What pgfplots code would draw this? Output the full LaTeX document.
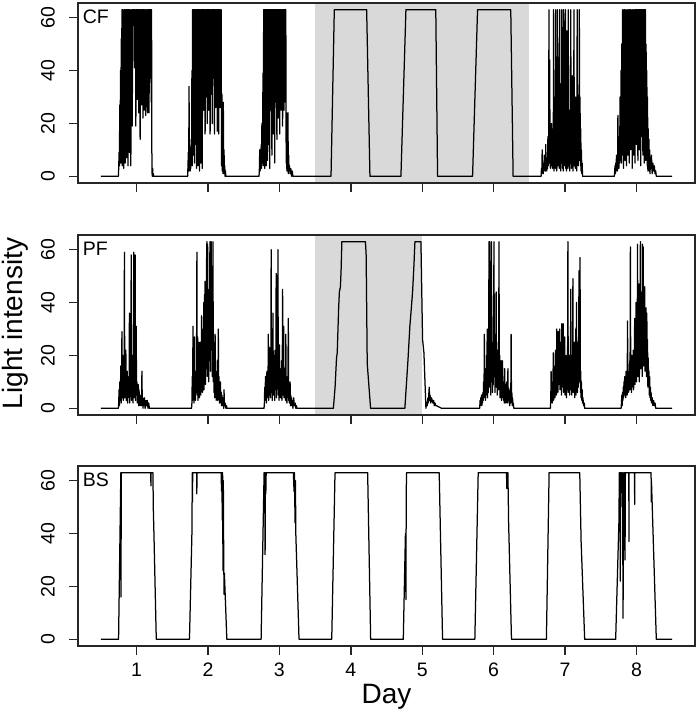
\documentclass[border=0pt]{standalone}
\usepackage{fontspec}
\setmainfont{Liberation Sans}
\usepackage{pgfplots}
\pgfplotsset{compat=1.18}
\pgfplotsset{
 panel/.style={
  scale only axis, width=617pt, height=180pt,
  xmin=0.18, xmax=8.82, ymin=-2.52, ymax=65.52,
  xtick={1,2,3,4,5,6,7,8}, ytick={0,20,40,60},
  tick pos=left, tick align=outside, major tick length=9pt,
  axis line style={line width=1.4pt, black!85},
  every tick/.style={black!85, line width=1.4pt},
  /pgf/number format/assume math mode=true,
  tick label style={font=\fontsize{19.5}{20}\selectfont},
  yticklabel style={rotate=90, anchor=south, inner sep=0pt},
  yticklabel shift=14pt,
  xticklabel style={anchor=north, inner sep=0pt},
  xticklabel shift=8pt,
  axis on top,
 },
 data/.style={black, line width=1.25pt, line join=round, no marks},
}
\newcommand{\plab}[1]{\node[anchor=north west, inner sep=0pt, xshift=4.7pt, yshift=-6.7pt, font=\fontsize{19.5}{20}\selectfont] at (rel axis cs:0,1) {#1};}
\begin{document}
\begin{tikzpicture}[x=1pt,y=1pt]
\path[use as bounding box] (0,0) rectangle (700,711);
% ---------------- CF ----------------
\begin{axis}[panel, at={(78pt,528pt)}, anchor=south west, xticklabels={}]
\fill[black!15] (axis cs:3.5,-2.52) rectangle (axis cs:6.5,65.52);
\addplot[data] coordinates {
(0.5,0)(0.745,0)
(0.750,3)(0.755,9)(0.760,4)(0.765,27)(0.770,6)(0.775,40)(0.780,5)(0.785,52)(0.790,8)(0.795,63)(0.800,4)(0.805,63)(0.810,14)(0.815,58)(0.820,3)(0.825,63)(0.830,22)(0.835,63)(0.840,5)(0.845,63)(0.850,33)(0.855,63)(0.860,7)(0.865,63)(0.870,16)(0.875,63)(0.880,4)(0.885,63)(0.890,38)(0.895,63)(0.900,9)(0.905,63)(0.910,26)(0.915,63)(0.920,4)(0.925,60)(0.930,42)(0.935,63)(0.940,19)(0.945,63)(0.950,57)(0.955,63)(0.965,63)(0.970,41)(0.975,63)(0.980,55)(0.985,63)(0.990,19)(0.995,63)(1.000,38)(1.005,63)(1.010,29)(1.015,63)(1.020,47)(1.025,63)(1.030,24)(1.035,63)(1.040,36)(1.045,63)(1.050,14)(1.055,63)(1.060,45)(1.065,63)(1.070,27)(1.075,63)(1.080,40)(1.085,63)(1.090,22)(1.095,63)(1.100,50)(1.105,63)(1.110,25)(1.115,63)(1.120,35)(1.125,63)(1.130,23)(1.135,60)(1.140,63)(1.145,30)(1.150,63)(1.155,24)(1.160,63)(1.165,46)(1.170,63)(1.175,24)(1.180,63)(1.185,52)(1.190,63)(1.195,37)(1.200,63)(1.205,28)(1.210,63)(1.215,2)(1.220,0)(1.225,3)(1.230,0)(1.235,1)(1.240,0)
(1.715,0)
(1.720,4)(1.725,9)(1.730,2)(1.735,34)(1.740,5)(1.745,11)(1.750,2)(1.755,8)(1.760,3)(1.765,14)(1.770,6)(1.775,40)(1.780,4)(1.785,63)(1.790,8)(1.795,63)(1.800,23)(1.805,63)(1.810,5)(1.815,63)(1.820,35)(1.825,63)(1.830,12)(1.835,63)(1.840,3)(1.845,63)(1.850,45)(1.855,63)(1.860,4)(1.865,63)(1.870,28)(1.875,63)(1.880,2)(1.885,63)(1.890,50)(1.895,63)(1.900,5)(1.905,63)(1.910,18)(1.915,63)(1.920,3)(1.925,63)(1.930,38)(1.935,63)(1.940,25)(1.945,63)(1.950,55)(1.955,63)(1.960,16)(1.965,63)(1.970,42)(1.975,63)(1.980,30)(1.985,63)(1.990,20)(1.995,63)(2.000,48)(2.005,63)(2.010,25)(2.015,63)(2.020,37)(2.025,63)(2.030,16)(2.035,63)(2.040,52)(2.045,63)(2.050,31)(2.055,63)(2.060,20)(2.065,63)(2.070,44)(2.075,63)(2.080,37)(2.085,63)(2.090,16)(2.095,63)(2.100,50)(2.105,63)(2.110,26)(2.115,63)(2.120,40)(2.125,63)(2.130,17)(2.135,63)(2.140,33)(2.145,63)(2.150,16)(2.155,63)(2.160,45)(2.165,63)(2.170,26)(2.175,63)(2.180,40)(2.185,63)(2.190,4)(2.195,31)(2.200,2)(2.205,20)(2.210,1)(2.215,28)(2.220,3)(2.225,10)(2.230,1)(2.235,4)(2.240,0)(2.245,2)(2.250,0)
(2.715,0)
(2.720,3)(2.725,10)(2.730,2)(2.735,8)(2.740,4)(2.745,12)(2.750,3)(2.755,20)(2.760,5)(2.765,10)(2.770,39)(2.775,4)(2.780,63)(2.785,8)(2.790,63)(2.795,3)(2.800,63)(2.805,18)(2.810,63)(2.815,4)(2.820,63)(2.825,30)(2.830,63)(2.835,6)(2.840,63)(2.845,45)(2.850,63)(2.855,12)(2.860,63)(2.865,3)(2.870,63)(2.875,25)(2.880,63)(2.885,50)(2.890,63)(2.895,8)(2.900,63)(2.905,35)(2.910,63)(2.915,16)(2.920,63)(2.925,42)(2.930,63)(2.935,5)(2.940,63)(2.945,28)(2.950,63)(2.955,55)(2.960,63)(2.965,14)(2.970,63)(2.975,38)(2.980,63)(2.985,22)(2.990,63)(2.995,48)(3.000,63)(3.005,16)(3.010,63)(3.015,33)(3.020,63)(3.025,25)(3.030,63)(3.035,45)(3.040,63)(3.045,19)(3.050,63)(3.055,37)(3.060,63)(3.065,25)(3.070,63)(3.075,52)(3.080,63)(3.085,28)(3.090,63)(3.095,5)(3.100,24)(3.105,2)(3.110,18)(3.115,3)(3.120,24)(3.125,1)(3.130,8)(3.135,2)(3.140,4)(3.150,1)(3.160,3)(3.170,0)(3.180,2)(3.190,0)
(3.723,0)(3.769,63)(4.222,63)(4.268,0)(4.702,0)(4.772,63)(5.190,63)(5.215,0)(5.705,0)(5.775,63)(6.240,63)(6.273,0)
(6.665,0)
(6.670,3)(6.675,1)(6.680,10)(6.685,2)(6.690,5)(6.695,1)(6.700,4)(6.705,2)(6.710,8)(6.715,3)(6.720,6)(6.725,2)(6.730,12)(6.735,3)(6.740,5)(6.745,2)(6.750,7)(6.755,3)(6.760,15)(6.765,4)(6.770,9)(6.775,63)(6.780,5)(6.785,44)(6.790,8)(6.795,3)(6.800,12)(6.805,5)(6.810,20)(6.815,4)(6.820,10)(6.825,3)(6.830,18)(6.835,6)
(6.840,63)(6.845,2)(6.850,12)(6.855,5)(6.860,30)(6.865,3)(6.870,63)(6.875,8)(6.880,15)(6.885,2)(6.890,10)(6.895,63)(6.900,6)(6.905,45)(6.910,4)(6.915,14)(6.920,3)(6.925,63)(6.930,8)(6.935,18)(6.940,2)(6.945,35)(6.950,5)(6.955,63)(6.960,10)(6.965,3)(6.970,16)(6.975,2)(6.980,63)(6.985,12)(6.990,4)(6.995,40)(7.000,6)(7.005,63)(7.010,3)(7.015,15)(7.020,2)(7.025,55)(7.030,8)(7.035,18)(7.040,3)(7.045,63)(7.050,10)(7.055,4)(7.060,25)(7.065,2)(7.070,12)(7.075,6)(7.080,63)(7.085,9)(7.090,3)(7.095,20)(7.100,5)(7.105,38)(7.110,2)(7.115,14)(7.120,6)(7.125,63)(7.130,4)(7.135,18)(7.140,8)(7.145,3)(7.150,30)(7.155,5)(7.160,15)(7.165,2)(7.170,63)(7.175,10)(7.180,22)(7.185,4)(7.190,14)(7.195,6)(7.200,63)(7.205,12)(7.210,30)(7.215,4)(7.220,18)(7.225,2)(7.230,10)(7.235,1)(7.240,5)(7.245,0)
(7.690,0)(7.695,2)(7.700,4)(7.705,1)(7.710,5)(7.715,2)(7.720,8)(7.725,3)(7.730,6)(7.735,2)(7.740,23)(7.745,4)(7.750,10)(7.755,3)(7.760,15)(7.765,5)(7.770,30)(7.775,6)(7.780,12)(7.785,40)(7.790,5)(7.795,50)(7.800,8)(7.805,63)(7.810,10)(7.815,45)(7.820,3)(7.825,63)(7.830,15)(7.835,63)(7.840,6)(7.845,30)(7.850,20)(7.855,63)(7.860,4)(7.865,55)(7.870,12)(7.875,63)(7.880,8)(7.885,40)(7.890,25)(7.895,63)(7.900,5)(7.905,63)(7.910,30)(7.915,63)(7.920,10)(7.925,50)(7.930,40)(7.935,63)(7.940,3)(7.945,63)(7.950,18)(7.955,63)(7.960,8)(7.965,50)(7.970,22)(7.975,63)(7.980,5)(7.985,63)(7.990,35)(7.995,63)(8.000,12)(8.005,63)(8.010,45)(8.015,63)(8.020,6)(8.025,63)(8.030,20)(8.035,63)(8.040,10)(8.045,63)(8.050,28)(8.055,63)(8.060,4)(8.065,63)(8.070,38)(8.075,63)(8.080,15)(8.085,63)(8.090,8)(8.095,63)(8.100,25)(8.105,63)(8.110,5)(8.115,63)(8.120,14)(8.125,63)(8.130,6)(8.135,50)(8.140,10)(8.145,40)(8.150,4)(8.155,30)(8.160,2)(8.165,18)(8.170,3)(8.175,14)(8.180,2)(8.185,10)(8.190,1)(8.195,6)(8.200,3)(8.210,8)(8.220,1)(8.230,5)(8.240,2)(8.250,4)(8.260,1)(8.270,2)(8.278,0)(8.5,0)
};
\plab{CF}
\end{axis}
% ---------------- PF ----------------
\begin{axis}[panel, at={(78pt,296pt)}, anchor=south west, xticklabels={}]
\fill[black!15] (axis cs:3.5,-2.52) rectangle (axis cs:5.0,65.52);
\addplot[data] coordinates {
(0.5,0)(0.745,0)
(0.750,2)(0.755,7)(0.760,1)(0.765,10)(0.770,3)(0.775,8)(0.780,16)(0.785,2)(0.790,9)(0.795,29)(0.800,4)(0.805,12)(0.810,20)(0.815,3)(0.820,11)(0.825,5)(0.830,59)(0.835,4)(0.840,13)(0.845,6)(0.850,22)(0.855,3)(0.860,10)(0.865,5)(0.870,14)(0.875,2)(0.880,9)(0.885,4)(0.890,12)(0.895,6)(0.900,36)(0.905,2)(0.910,10)(0.915,5)(0.920,15)(0.925,58)(0.930,3)(0.935,12)(0.940,6)(0.945,20)(0.950,2)(0.955,10)(0.960,59)(0.965,4)(0.970,13)(0.975,7)(0.980,58)(0.985,3)(0.990,11)(0.995,31)(1.000,5)(1.005,10)(1.010,2)(1.015,8)(1.020,4)(1.025,9)(1.030,1)(1.035,7)(1.040,3)(1.045,5)(1.050,1)(1.055,4)(1.060,2)(1.065,5)(1.070,1)(1.075,14)(1.080,2)(1.085,4)(1.090,0)(1.095,3)(1.100,1)(1.110,4)(1.120,0)(1.130,3)(1.140,1)(1.150,3)(1.160,0)(1.170,2)(1.180,0)
(1.770,0)
(1.775,2)(1.780,12)(1.785,3)(1.790,31)(1.795,5)(1.800,9)(1.805,2)(1.810,27)(1.815,4)(1.820,10)(1.825,3)(1.830,14)(1.835,6)(1.840,20)(1.845,59)(1.850,5)(1.855,27)(1.860,3)(1.865,12)(1.870,6)(1.875,25)(1.880,4)(1.885,15)(1.890,7)(1.895,25)(1.900,5)(1.905,13)(1.910,35)(1.915,8)(1.920,18)(1.925,6)(1.930,30)(1.935,10)(1.940,40)(1.945,7)(1.950,43)(1.955,12)(1.960,48)(1.965,9)(1.970,35)(1.975,15)(1.980,55)(1.985,63)(1.990,12)(1.995,62)(2.000,20)(2.005,45)(2.010,10)(2.015,38)(2.020,18)(2.025,57)(2.030,63)(2.035,14)(2.040,50)(2.045,63)(2.050,22)(2.055,40)(2.060,12)(2.065,30)(2.070,63)(2.075,10)(2.080,25)(2.085,6)(2.090,18)(2.095,4)(2.100,28)(2.105,8)(2.110,14)(2.115,3)(2.120,12)(2.125,5)(2.130,18)(2.135,3)(2.140,10)(2.145,30)(2.150,4)(2.155,12)(2.160,2)(2.165,8)(2.170,3)(2.175,10)(2.180,2)(2.185,6)(2.190,1)(2.195,5)(2.200,2)(2.205,4)(2.210,1)(2.215,3)(2.220,0)(2.225,7)(2.230,1)(2.240,2)(2.250,0)(2.260,1)(2.265,0)
(2.785,0)
(2.790,2)(2.795,8)(2.800,3)(2.805,12)(2.810,5)(2.815,9)(2.820,2)(2.825,14)(2.830,4)(2.835,10)(2.840,6)(2.845,28)(2.850,3)(2.855,12)(2.860,23)(2.865,5)(2.870,15)(2.875,4)(2.880,10)(2.885,60)(2.890,6)(2.895,18)(2.900,3)(2.905,12)(2.910,36)(2.915,5)(2.920,20)(2.925,8)(2.930,14)(2.935,3)(2.940,22)(2.945,7)(2.950,12)(2.955,51)(2.960,4)(2.965,16)(2.970,9)(2.975,20)(2.980,60)(2.985,5)(2.990,13)(2.995,3)(3.000,24)(3.005,8)(3.010,15)(3.015,4)(3.020,11)(3.025,6)(3.030,18)(3.035,3)(3.040,12)(3.045,45)(3.050,5)(3.055,14)(3.060,31)(3.065,4)(3.070,10)(3.075,6)(3.080,15)(3.085,3)(3.090,28)(3.095,5)(3.100,12)(3.105,2)(3.110,9)(3.115,4)(3.120,14)(3.125,34)(3.130,3)(3.135,8)(3.140,2)(3.145,6)(3.150,10)(3.155,1)(3.160,5)(3.165,2)(3.170,4)(3.175,1)(3.180,3)(3.190,0)(3.200,4)(3.210,1)(3.220,2)(3.230,0)(3.240,1)(3.245,0)
(3.756,0)(3.780,8)(3.800,19)(3.810,21)(3.830,38)(3.840,44)(3.855,46)(3.865,53)(3.875,63)(4.205,63)(4.215,58)(4.230,17)(4.277,0)
(4.757,0)(4.800,18)(4.827,31)(4.845,37)(4.865,44)(4.884,54)(4.898,63)(4.982,63)(5.005,26)(5.024,21)(5.052,0)(5.060,2)(5.070,1)(5.080,4)(5.085,2)(5.098,8)(5.105,3)(5.110,5)(5.120,2)(5.130,4)(5.140,3)(5.150,2)(5.160,3)(5.170,1)(5.180,2)(5.190,1)(5.200,1)(5.271,0)
(5.805,0)
(5.810,3)(5.815,1)(5.820,4)(5.825,2)(5.830,5)(5.835,1)(5.840,4)(5.845,2)(5.850,6)(5.855,3)(5.860,10)(5.865,4)(5.870,28)(5.875,6)(5.880,12)(5.885,3)(5.890,15)(5.895,5)(5.900,20)(5.905,8)(5.910,30)(5.915,4)(5.920,12)(5.925,6)(5.930,18)(5.935,63)(5.940,8)(5.945,63)(5.950,12)(5.955,22)(5.960,5)(5.965,40)(5.970,63)(5.975,10)(5.980,25)(5.985,6)(5.990,18)(5.995,9)(6.000,35)(6.005,63)(6.010,12)(6.015,28)(6.020,6)(6.025,20)(6.030,10)(6.035,44)(6.040,8)(6.045,22)(6.050,5)(6.055,16)(6.060,9)(6.065,25)(6.070,7)(6.075,63)(6.080,12)(6.085,20)(6.090,4)(6.095,14)(6.100,7)(6.105,18)(6.110,3)(6.115,12)(6.120,5)(6.125,18)(6.130,4)(6.135,10)(6.140,3)(6.145,8)(6.150,2)(6.155,15)(6.160,4)(6.165,9)(6.170,2)(6.175,7)(6.180,3)(6.185,10)(6.190,2)(6.195,6)(6.200,15)(6.205,3)(6.210,7)(6.215,2)(6.220,5)(6.225,1)(6.230,4)(6.235,8)(6.240,2)(6.245,28)(6.250,3)(6.255,6)(6.260,1)(6.265,4)(6.270,1)(6.275,2)(6.283,0)
(6.795,0)
(6.800,3)(6.805,14)(6.810,4)(6.815,8)(6.820,2)(6.825,10)(6.830,5)(6.835,21)(6.840,3)(6.845,12)(6.850,6)(6.855,16)(6.860,4)(6.865,22)(6.870,8)(6.875,14)(6.880,5)(6.885,30)(6.890,10)(6.895,18)(6.900,6)(6.905,29)(6.910,9)(6.915,20)(6.920,12)(6.925,30)(6.930,7)(6.935,16)(6.940,10)(6.945,25)(6.950,5)(6.955,32)(6.960,11)(6.965,18)(6.970,8)(6.975,32)(6.980,6)(6.985,15)(6.990,9)(6.995,27)(7.000,5)(7.005,14)(7.010,8)(7.015,20)(7.020,4)(7.025,18)(7.030,7)(7.035,12)(7.040,63)(7.045,6)(7.050,15)(7.055,9)(7.060,20)(7.065,5)(7.070,12)(7.075,7)(7.080,45)(7.085,8)(7.090,14)(7.095,5)(7.100,20)(7.105,7)(7.110,49)(7.115,6)(7.120,16)(7.125,9)(7.130,25)(7.135,4)(7.140,14)(7.145,8)(7.150,30)(7.155,5)(7.160,40)(7.165,10)(7.170,18)(7.175,6)(7.180,25)(7.185,8)(7.190,15)(7.195,52)(7.200,10)(7.205,20)(7.210,57)(7.215,6)(7.220,14)(7.225,4)(7.230,10)(7.235,3)(7.240,7)(7.245,2)(7.250,4)(7.260,1)(7.270,2)(7.275,0)
(7.785,0)
(7.790,2)(7.795,5)(7.800,1)(7.805,6)(7.810,3)(7.815,8)(7.820,4)(7.825,10)(7.830,5)(7.835,12)(7.840,6)(7.845,9)(7.850,4)(7.855,14)(7.860,7)(7.865,11)(7.870,5)(7.875,33)(7.880,8)(7.885,14)(7.890,6)(7.895,12)(7.900,9)(7.905,18)(7.910,7)(7.915,61)(7.920,10)(7.925,17)(7.930,6)(7.935,20)(7.940,8)(7.945,15)(7.950,10)(7.955,22)(7.960,7)(7.965,16)(7.970,12)(7.975,34)(7.980,9)(7.985,20)(7.990,14)(7.995,40)(8.000,10)(8.005,25)(8.010,15)(8.015,62)(8.020,12)(8.025,30)(8.030,18)(8.035,47)(8.040,10)(8.045,28)(8.050,20)(8.055,63)(8.060,15)(8.065,35)(8.070,18)(8.075,44)(8.080,12)(8.085,62)(8.090,22)(8.095,61)(8.100,16)(8.105,40)(8.110,25)(8.115,46)(8.120,14)(8.125,30)(8.130,20)(8.135,38)(8.140,12)(8.145,36)(8.150,18)(8.155,26)(8.160,8)(8.165,19)(8.170,10)(8.175,14)(8.180,5)(8.185,12)(8.190,4)(8.195,8)(8.200,3)(8.205,6)(8.210,2)(8.220,4)(8.230,1)(8.240,3)(8.250,1)(8.260,2)(8.270,0)(8.5,0)
};
\plab{PF}
\end{axis}
% ---------------- BS ----------------
\begin{axis}[panel, at={(78pt,65pt)}, anchor=south west]
\addplot[data] coordinates {
(0.5,0)(0.748,0)(0.780,63)(0.782,16)(0.786,63)(1.199,63)(1.201,58)(1.203,63)(1.229,63)(1.235,49)(1.245,38)(1.276,0)
(1.741,0)(1.775,40)(1.781,63)(1.783,52)(1.786,63)(1.842,63)(1.844,55)(1.846,63)(2.184,63)(2.190,56)(2.195,63)(2.200,45)(2.205,63)(2.210,26)(2.215,60)(2.220,33)(2.225,17)(2.230,25)(2.264,0)
(2.744,0)(2.786,63)(2.790,48)(2.795,63)(2.800,32)(2.805,63)(2.810,55)(2.815,63)(3.196,63)(3.205,56)(3.210,63)(3.220,44)(3.225,60)(3.230,40)(3.275,0)
(3.733,0)(3.779,63)(4.236,63)(4.278,0)
(4.735,0)(4.765,40)(4.772,15)(4.776,55)(4.781,63)(5.238,63)(5.285,0)
(5.737,0)(5.784,63)(6.180,63)(6.185,57)(6.190,63)(6.200,63)(6.210,44)(6.250,0)
(6.739,0)(6.777,63)(7.206,63)(7.225,37)(7.275,0)
(7.709,0)(7.755,45)(7.760,63)(7.765,43)(7.770,63)(7.774,22)(7.778,63)(7.782,50)(7.790,63)(7.800,57)(7.806,63)(7.812,8)(7.818,40)(7.822,63)(7.835,63)(7.840,30)(7.845,63)(7.893,63)(7.895,37)(7.897,63)(7.973,63)(7.975,51)(7.977,63)(8.205,63)(8.207,52)(8.210,60)(8.278,0)(8.5,0)
};
\plab{BS}
\end{axis}
\node[rotate=90, font=\fontsize{28}{30}\selectfont] at (15,387.5) {Light intensity};
\node[anchor=base, font=\fontsize{28}{30}\selectfont] at (386.5,8) {Day};
\end{tikzpicture}
\end{document}
